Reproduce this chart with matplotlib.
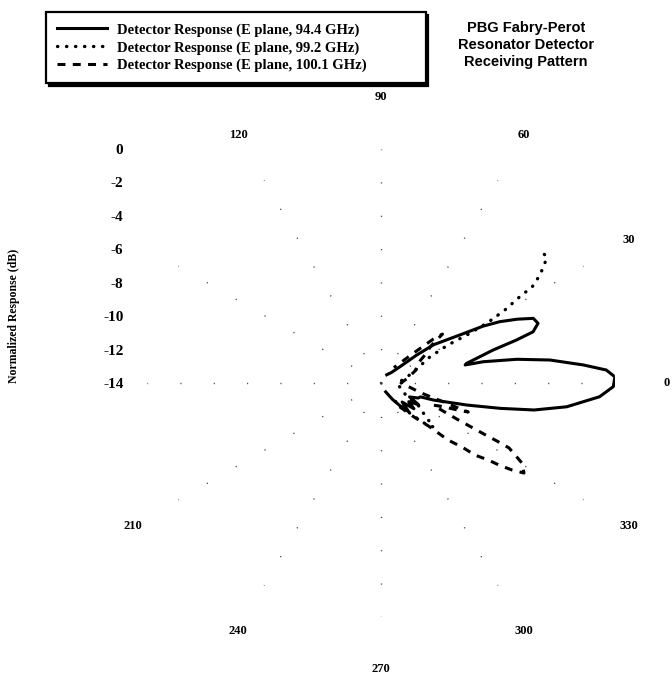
import numpy as np
import matplotlib.pyplot as plt

plt.rcParams['axes.unicode_minus'] = False

# E plane, 94.4 GHz (angle in deg, normalized response in dB)
theta_944 = [-62, -55, -50, -46, -42, -38, -34, -30, -26, -22, -19.4, -18.0, -14.4, -12.0,
             -10.0, -7.3, -3.6, -0.9, 1.5, 3.3, 5.1, 7.75, 9.9, 11.75, 12.1, 12.9, 16.4,
             17.6, 18.6, 20.8, 23.0, 25.1, 27.3, 29.1, 31.3, 36.0, 38.1, 40.6, 45, 55]
db_944 = [-13.4, -12.8, -12.2, -11.6, -12.3, -11.5, -12.0, -11.4, -12.1, -11.6, -11.5, -10.7,
          -8.7, -6.7, -4.7, -2.8, -0.9, -0.1, 0.0, -0.5, -1.85, -3.8, -5.75, -7.75, -8.85,
          -8.75, -7.0, -5.5, -4.4, -3.95, -4.1, -5.0, -6.0, -7.0, -8.45, -10.1, -11.3, -12.5,
          -13.1, -13.4]

# E plane, 99.2 GHz
theta_992 = [-52, -46, -43, -40, -36, -31.6, -25, -15, 0, 10, 18, 24, 28, 29.6, 29.2, 29.5,
             30.5, 32.0, 32.4, 34.2, 36.2, 37.2, 39.4, 40.1]
db_992 = [-12.6, -11.4, -10.5, -9.9, -10.8, -11.3, -12.4, -12.8, -13.0, -12.6, -12.0, -11.4,
          -10.7, -9.4, -8.1, -6.7, -5.4, -4.1, -3.3, -2.5, -1.85, -1.55, -1.57, -1.65]

# E plane, 100.1 GHz
theta_1001 = [-52, -46, -42, -40.4, -38.3, -37.5, -35.7, -34.8, -33.6, -32.2, -29.6, -28.6,
              -26.9, -26.6, -26.4, -26.0, -25.5, -24.5, -23, -21, -19.5, -18.4, -17, -14, -8,
              0, 10, 20, 28, 33, 36.5, 38.5, 40, 43, 50]
db_1001 = [-12.2, -11.2, -10.1, -8.73, -7.82, -6.92, -6.11, -5.4, -4.6, -3.89, -4.3, -4.74,
           -5.41, -6.2, -7.1, -8.0, -8.9, -9.8, -10.6, -10.1, -9.2, -8.5, -10.0, -11.5, -12.3,
           -12.8, -12.4, -11.8, -11.5, -10.8, -10.3, -9.3, -9.9, -11.5, -12.8]

r_ticks = [0, -2, -4, -6, -8, -10, -12, -14]
theta_ticks = [0, 30, 60, 90, 120, 150, 180, 210, 240, 270, 300, 330]
theta_labels = ['0', '30', '60', '90', '120', '', '', '210', '240', '270', '300', '330']

W, H = 672, 683
cx, cy, R = 381, 383, 234

fig = plt.figure(figsize=(W / 100, H / 100), dpi=100)
rect = [(cx - R) / W, (H - cy - R) / H, 2 * R / W, 2 * R / H]

# cartesian helper axes only for the radial scale on the left
axr = fig.add_axes(rect)
axr.set_ylim(-28, 0)
axr.set_yticks(r_ticks)
axr.set_yticklabels([str(v) for v in r_ticks], family='Liberation Serif',
                    fontweight='bold', fontsize=11)
axr.tick_params(axis='y', length=0, pad=17)
axr.set_xticks([])
for s in axr.spines.values():
    s.set_visible(False)
axr.patch.set_visible(False)

ax = fig.add_axes(rect, projection='polar')
ax.patch.set_visible(False)
ax.spines['polar'].set_visible(False)
ax.set_rlim(-14, 0)
ax.set_yticks(r_ticks)
ax.set_yticklabels([])
ax.yaxis.grid(False)
ax.set_xticks(np.deg2rad(theta_ticks))
ax.set_xticklabels(theta_labels, family='Liberation Serif', fontweight='bold', fontsize=9)
ax.tick_params(axis='x', pad=27)
ax.xaxis.grid(True, color='0.25', lw=1.0, linestyle=(0, (0.8, 23.2)))

l1, = ax.plot(np.deg2rad(theta_944), db_944, color='black', lw=2.2, solid_joinstyle='round',
              label='Detector Response (E plane, 94.4 GHz)')
l2, = ax.plot(np.deg2rad(theta_992), db_992, color='black', lw=2.4, linestyle=(0, (0.1, 2.6)),
              dash_capstyle='round', label='Detector Response (E plane, 99.2 GHz)')
l3, = ax.plot(np.deg2rad(theta_1001), db_1001, color='black', lw=2.2, linestyle=(0, (2.6, 2.4)),
              label='Detector Response (E plane, 100.1 GHz)')

fig.text(14 / W, 1 - 316 / H, 'Normalized Response (dB)', rotation=90, ha='center', va='center',
         family='Liberation Serif', fontweight='bold', fontsize=8.5)

leg = fig.legend(handles=[l1, l2, l3], loc='upper left',
                 bbox_to_anchor=(39 / W, 1 - 78 / H, 394 / W, 73 / H), mode='expand',
                 prop={'family': 'Liberation Serif', 'weight': 'bold', 'size': 10.5},
                 fancybox=False, edgecolor='black', framealpha=1, handlelength=3.4,
                 labelspacing=0.3, borderpad=0.75, handletextpad=0.7,
                 shadow={'color': 'black', 'alpha': 1})
leg.get_frame().set_linewidth(1.6)

fig.text(526 / W, 1 - 45 / H, 'PBG Fabry-Perot\nResonator Detector\nReceiving Pattern',
         ha='center', va='center', family='Liberation Sans', fontweight='bold', fontsize=10.5,
         linespacing=1.25)

fig.savefig('out.png', dpi=100)
